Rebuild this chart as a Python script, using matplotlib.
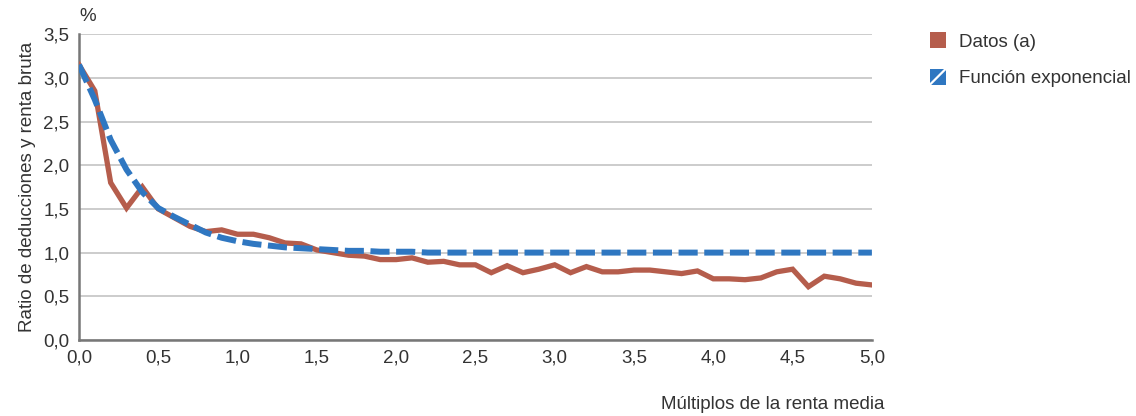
import matplotlib.pyplot as plt
import numpy as np
from matplotlib.legend_handler import HandlerBase
from matplotlib.lines import Line2D
from matplotlib.patches import Rectangle

plt.rcParams["font.family"] = ["Liberation Sans", "DejaVu Sans"]

# multiples of mean income (step 0.1)
multiples = [round(0.1 * i, 1) for i in range(51)]

datos = [
    3.15, 2.85, 1.80, 1.51, 1.75, 1.50, 1.40, 1.30, 1.24, 1.26,
    1.21, 1.21, 1.17, 1.11, 1.10, 1.03, 1.00, 0.97, 0.96, 0.92,
    0.92, 0.94, 0.89, 0.90, 0.86, 0.86, 0.77, 0.85, 0.77, 0.81,
    0.86, 0.77, 0.84, 0.78, 0.78, 0.80, 0.80, 0.78, 0.76, 0.79,
    0.70, 0.70, 0.69, 0.71, 0.78, 0.81, 0.61, 0.73, 0.70, 0.65,
    0.63,
]

exponencial = [
    3.15, 2.75, 2.29, 1.95, 1.69, 1.51, 1.41, 1.32, 1.23, 1.17,
    1.13, 1.10, 1.08, 1.06, 1.05, 1.04, 1.03, 1.02, 1.02, 1.01,
    1.01, 1.01, 1.00, 1.00, 1.00, 1.00, 1.00, 1.00, 1.00, 1.00,
    1.00, 1.00, 1.00, 1.00, 1.00, 1.00, 1.00, 1.00, 1.00, 1.00,
    1.00, 1.00, 1.00, 1.00, 1.00, 1.00, 1.00, 1.00, 1.00, 1.00,
    1.00,
]

RED = "#b55d4c"
BLUE = "#2f77c1"
GREY = "#777777"
TXT = "#333333"
FS = 13.5


class SquareHandler(HandlerBase):
    def __init__(self, color, slash=False):
        super().__init__()
        self.color = color
        self.slash = slash

    def create_artists(self, legend, orig_handle, xdescent, ydescent,
                       width, height, fontsize, trans):
        s = 11.5
        x0 = -xdescent + (width - s) / 2
        y0 = -ydescent + (height - s) / 2
        artists = [Rectangle((x0, y0), s, s, facecolor=self.color,
                             edgecolor="none", transform=trans)]
        if self.slash:
            artists.append(Line2D([x0, x0 + s], [y0, y0 + s], color="white",
                                  lw=1.6, transform=trans))
        return artists


fig = plt.figure(figsize=(11.36, 4.16), dpi=100)
ax = fig.add_axes([0.0695, 0.1827, 0.698, 0.7353])

ax.plot(multiples, datos, color=RED, lw=3.8, solid_joinstyle="miter",
        label="Datos (a)", zorder=3)
(exp_line,) = ax.plot(multiples, exponencial, color=BLUE, lw=4.3,
                      label="Función exponencial", zorder=4)
exp_line.set_dashes((3.2, 1.1))

ax.set_xlim(0, 5)
ax.set_ylim(0, 3.5)
ax.set_xticks(np.arange(0, 5.01, 0.5))
ax.set_yticks(np.arange(0, 3.51, 0.5))
ax.set_xticklabels([f"{v:.1f}".replace(".", ",") for v in ax.get_xticks()])
ax.set_yticklabels([f"{v:.1f}".replace(".", ",") for v in ax.get_yticks()])
ax.tick_params(length=0, labelsize=FS, colors=TXT, pad=7)

ax.grid(axis="y", color="#c4c4c4", lw=1.2)
ax.set_axisbelow(True)
for side in ["top", "right"]:
    ax.spines[side].set_visible(False)
for side in ["left", "bottom"]:
    ax.spines[side].set_color(GREY)
    ax.spines[side].set_linewidth(1.8)

ax.set_ylabel("Ratio de deducciones y renta bruta", fontsize=FS, color=TXT,
              labelpad=5)
ax.text(0.0, 1.03, "%", transform=ax.transAxes, fontsize=FS, color=TXT,
        ha="left", va="bottom")
fig.text(0.779, 0.008, "Múltiplos de la renta media", fontsize=FS,
         color=TXT, ha="right", va="bottom")

h1 = Rectangle((0, 0), 1, 1)
h2 = Rectangle((0, 0), 1, 1)
fig.legend([h1, h2], ["Datos (a)", "Función exponencial"],
           handler_map={h1: SquareHandler(RED), h2: SquareHandler(BLUE, True)},
           loc="upper left", bbox_to_anchor=(0.8015, 0.96), frameon=False,
           fontsize=FS, labelcolor=TXT, handlelength=1.1, handletextpad=0.6,
           labelspacing=1.05)

fig.savefig("out.png", dpi=100)
